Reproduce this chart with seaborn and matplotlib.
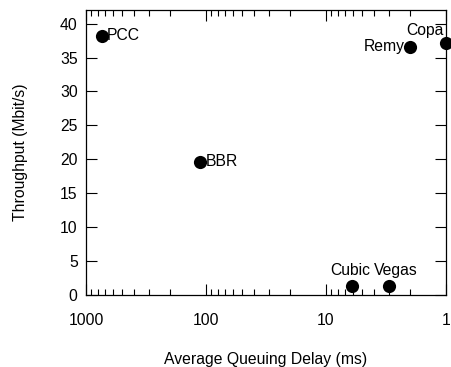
import pandas as pd
import matplotlib
matplotlib.use("Agg")
import matplotlib.pyplot as plt
import matplotlib.ticker as mticker
import seaborn as sns

# Congestion control schemes: average queuing delay (ms) vs throughput (Mbit/s)
schemes = ["PCC", "BBR", "Cubic", "Vegas", "Remy", "Copa"]
delay_ms = [740, 112, 6.1, 3.0, 2.0, 1.0]
throughput = [38.2, 19.6, 1.37, 1.37, 36.6, 37.2]

# label placement: (dx, dy) in points, horizontal alignment
label_pos = {
    "PCC": (4, 0, "left"),
    "BBR": (4, 0, "left"),
    "Cubic": (-1, 11, "center"),
    "Vegas": (5, 11, "center"),
    "Remy": (-4, 0, "right"),
    "Copa": (-2, 9, "right"),
}

df = pd.DataFrame({"scheme": schemes, "delay": delay_ms, "tput": throughput})

sns.set_style("ticks")
plt.rcParams["font.family"] = ["Liberation Sans", "DejaVu Sans"]
plt.rcParams["font.size"] = 11.3
plt.rcParams["text.color"] = "black"
plt.rcParams["axes.labelcolor"] = "black"
plt.rcParams["xtick.color"] = "black"
plt.rcParams["ytick.color"] = "black"

fs = 11.3

fig = plt.figure(figsize=(4.51, 3.67), dpi=100)
ax = fig.add_axes([86 / 451, 1 - 295 / 367, 360 / 451, 285 / 367])

sns.scatterplot(data=df, x="delay", y="tput", ax=ax, color="black",
                s=90, edgecolor="black", linewidth=0, clip_on=False, zorder=5)

for _, row in df.iterrows():
    dx, dy, ha = label_pos[row["scheme"]]
    ax.annotate(row["scheme"], (row["delay"], row["tput"]), xytext=(dx, dy),
                textcoords="offset points", ha=ha, va="center", fontsize=fs,
                color="black", annotation_clip=False)

ax.set_xscale("log")
ax.set_xlim(1000, 1)
ax.set_ylim(0, 42)
ax.xaxis.set_major_locator(mticker.FixedLocator([1000, 100, 10, 1]))
ax.xaxis.set_major_formatter(mticker.FixedFormatter(["1000", "100", "10", "1"]))
ax.xaxis.set_minor_locator(mticker.LogLocator(base=10, subs=range(2, 10), numticks=20))
ax.xaxis.set_minor_formatter(mticker.NullFormatter())
ax.set_yticks(range(0, 41, 5))

ax.tick_params(which="both", direction="in", top=True, right=True, width=0.8)
ax.tick_params(which="major", length=8, labelsize=fs)
ax.tick_params(which="minor", length=4)
ax.tick_params(axis="x", which="major", pad=13)
ax.tick_params(axis="y", which="major", pad=6)
for sp in ax.spines.values():
    sp.set_visible(True)
    sp.set_color("black")
    sp.set_linewidth(0.9)

ax.set_xlabel("Average Queuing Delay (ms)", fontsize=fs, labelpad=17)
ax.set_ylabel("Throughput (Mbit/s)", fontsize=fs, labelpad=23)

fig.savefig("out.png", dpi=100)
